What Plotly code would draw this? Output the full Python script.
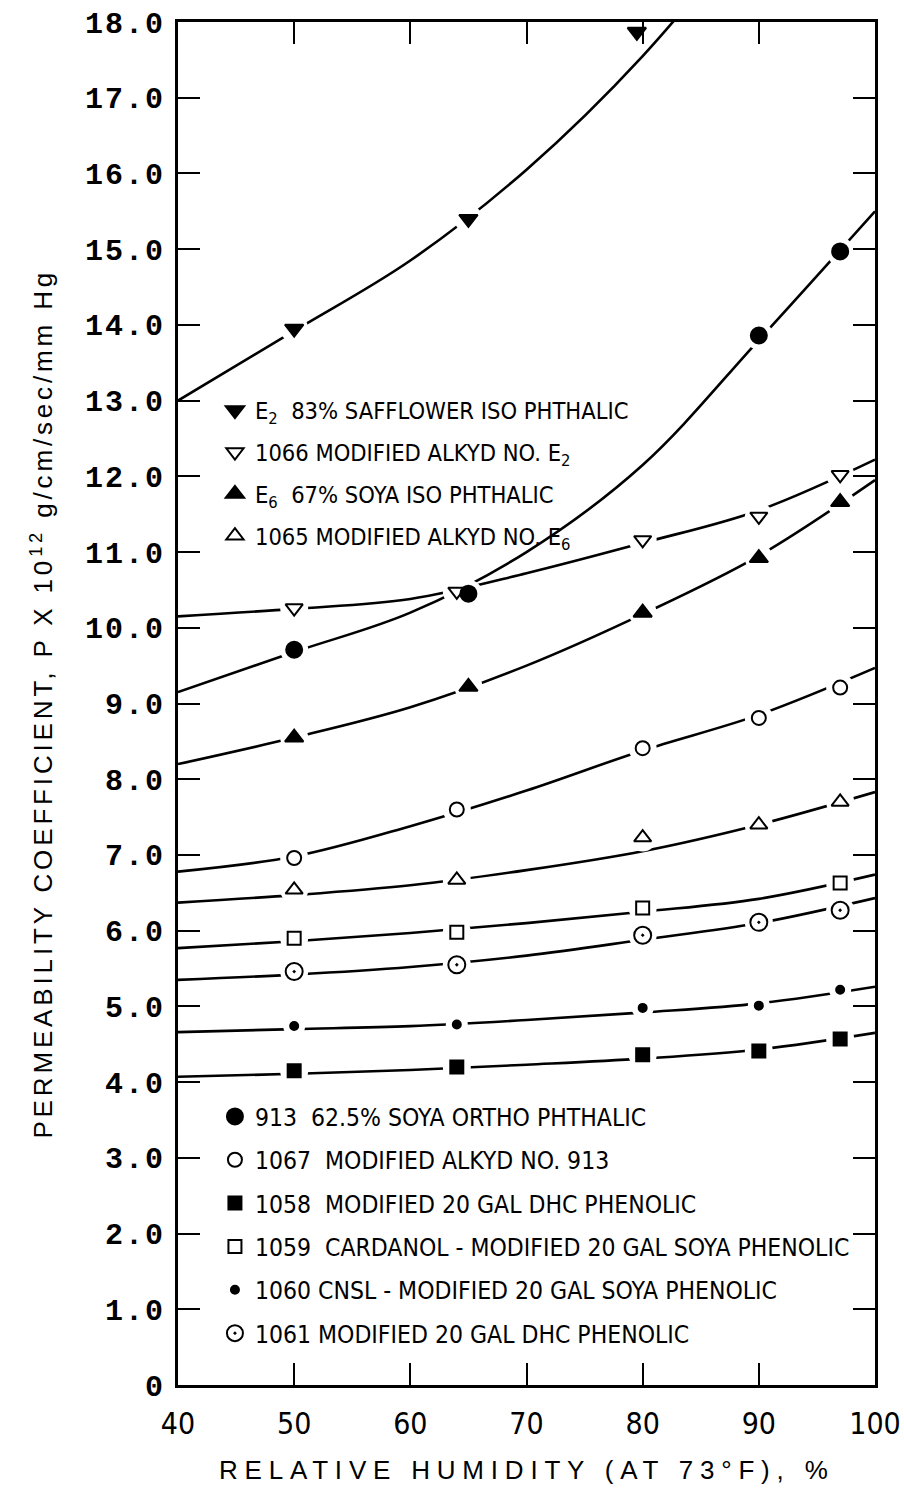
import plotly.graph_objects as go

# Relative humidity (%) at which each film was measured
RH_E2 = [50, 65, 79.5]
RH_1066 = [50, 64, 80, 90, 97]
RH_E6 = [50, 65, 80, 90, 97]
RH_1065 = [50, 64, 80, 90, 97]
RH_913 = [50, 65, 90, 97]
RH_1067 = [50, 64, 80, 90, 97]
RH_1058 = [50, 64, 80, 90, 97]
RH_1059 = [50, 64, 80, 97]
RH_1060 = [50, 64, 80, 90, 97]
RH_1061 = [50, 64, 80, 90, 97]

# Measured permeability coefficients, P x 10^12 g/cm/sec/mm Hg
P_E2 = [13.95, 15.40, 17.87]
P_1066 = [10.26, 10.48, 11.16, 11.47, 12.02]
P_E6 = [8.55, 9.22, 10.20, 10.92, 11.66]
P_1065 = [6.54, 6.67, 7.23, 7.40, 7.70]
P_913 = [9.71, 10.45, 13.86, 14.97]
P_1067 = [6.96, 7.60, 8.41, 8.81, 9.21]
P_1058 = [4.15, 4.20, 4.36, 4.41, 4.57]
P_1059 = [5.90, 5.98, 6.30, 6.63]
P_1060 = [4.74, 4.76, 4.98, 5.01, 5.22]
P_1061 = [5.46, 5.55, 5.94, 6.11, 6.27]

# Faired curves, sampled at common humidity knots
CURVE_RH = [40, 50, 60, 70, 80, 90, 100]
CURVE_E2 = [13.00, 13.92, 14.85, 16.05, 17.55, 19.40, 21.50]
CURVE_1066 = [10.15, 10.25, 10.38, 10.72, 11.12, 11.55, 12.22]
CURVE_E6 = [8.20, 8.55, 8.95, 9.50, 10.18, 10.95, 11.95]
CURVE_1065 = [6.37, 6.47, 6.60, 6.80, 7.05, 7.40, 7.83]
CURVE_913 = [9.15, 9.68, 10.20, 11.00, 12.15, 13.80, 15.50]
CURVE_1067 = [6.78, 6.98, 7.38, 7.85, 8.38, 8.85, 9.47]
CURVE_1058 = [4.07, 4.11, 4.16, 4.23, 4.31, 4.43, 4.65]
CURVE_1059 = [5.77, 5.86, 5.97, 6.10, 6.25, 6.42, 6.74]
CURVE_1060 = [4.66, 4.70, 4.74, 4.82, 4.92, 5.04, 5.26]
CURVE_1061 = [5.35, 5.42, 5.52, 5.67, 5.88, 6.10, 6.43]

X_TICKS = [40, 50, 60, 70, 80, 90, 100]
Y_TICKS = list(range(0, 19))
Y_TICK_TEXT = ["0"] + [f"{v}.0" for v in range(1, 19)]

NARROW = "Liberation Sans Narrow, DejaVu Sans Condensed, Arial Narrow, Liberation Sans, sans-serif"
SANS = "Liberation Sans, Arial, sans-serif"
MONO = "Liberation Mono, Courier New, monospace"


def spaced(text, px):
    """Wrap text in a span with extra letter spacing."""
    return f'<span style="letter-spacing:{px}px">{text}</span>'


series = [
    # name, rh, p, curve, symbol, size, legend
    ("E<sub>2</sub>  83% SAFFLOWER ISO PHTHALIC", RH_E2, P_E2, CURVE_E2, "triangle-down", 16, "legend"),
    ("1066 MODIFIED ALKYD NO. E<sub>2</sub>", RH_1066, P_1066, CURVE_1066, "triangle-down-open", 15, "legend"),
    ("E<sub>6</sub>  67% SOYA ISO PHTHALIC", RH_E6, P_E6, CURVE_E6, "triangle-up", 16, "legend"),
    ("1065 MODIFIED ALKYD NO. E<sub>6</sub>", RH_1065, P_1065, CURVE_1065, "triangle-up-open", 15, "legend"),
    ("913  62.5% SOYA ORTHO PHTHALIC", RH_913, P_913, CURVE_913, "circle", 16, "legend2"),
    ("1067  MODIFIED ALKYD NO. 913", RH_1067, P_1067, CURVE_1067, "circle-open", 14, "legend2"),
    ("1058  MODIFIED 20 GAL DHC PHENOLIC", RH_1058, P_1058, CURVE_1058, "square", 13, "legend2"),
    ("1059  CARDANOL - MODIFIED 20 GAL SOYA PHENOLIC", RH_1059, P_1059, CURVE_1059, "square-open", 13, "legend2"),
    ("1060 CNSL - MODIFIED 20 GAL SOYA PHENOLIC", RH_1060, P_1060, CURVE_1060, "circle", 8, "legend2"),
    ("1061 MODIFIED 20 GAL DHC PHENOLIC", RH_1061, P_1061, CURVE_1061, "circle-open-dot", 17, "legend2"),
]

fig = go.Figure()

# Curves first
for name, rh, p, curve, sym, size, leg in series:
    fig.add_trace(go.Scatter(
        x=CURVE_RH, y=curve, mode="lines",
        line=dict(color="black", width=2.6, shape="spline", smoothing=1.0),
        showlegend=False, hoverinfo="skip",
    ))

# White halos break the curves around each plotted point
for name, rh, p, curve, sym, size, leg in series:
    fig.add_trace(go.Scatter(
        x=rh, y=p, mode="markers",
        marker=dict(symbol="circle", size=28 if size > 10 else 22, color="white", line=dict(width=0)),
        showlegend=False, hoverinfo="skip",
    ))

# Data points
for i, (name, rh, p, curve, sym, size, leg) in enumerate(series):
    fig.add_trace(go.Scatter(
        x=rh, y=p, mode="markers", name=name,
        marker=dict(symbol=sym, size=size, color="black",
                    line=dict(color="black", width=2)),
        legend=leg, legendgroup=f"g{i}",
    ))

legend_common = dict(
    xanchor="left", yanchor="top",
    bgcolor="rgba(0,0,0,0)", borderwidth=0,
    itemwidth=30, traceorder="grouped",
)

axis_common = dict(
    showline=True, linecolor="black", linewidth=3, mirror="ticks",
    ticks="inside", ticklen=22, tickwidth=2, tickcolor="black",
    showgrid=False, zeroline=False,
)

fig.update_layout(
    width=904, height=1501,
    margin=dict(l=178, r=29, t=22, b=116, autoexpand=False),
    paper_bgcolor="white", plot_bgcolor="white",
    xaxis=dict(range=[40, 100], tickvals=X_TICKS, ticktext=[str(v) for v in X_TICKS],
               tickfont=dict(family=NARROW, size=30, color="black"),
               ticklabelstandoff=10, **axis_common),
    yaxis=dict(range=[0, 18], tickvals=Y_TICKS, ticktext=[spaced(t, 2) for t in Y_TICK_TEXT],
               tickfont=dict(family=MONO, size=30, color="black", weight="bold"),
               ticklabelstandoff=4, **axis_common),
    legend=dict(x=0.053, y=0.7312, tracegroupgap=8.3,
                font=dict(family=NARROW, size=23.5, color="black"), **legend_common),
    legend2=dict(x=0.053, y=0.2135, tracegroupgap=8.5,
                 font=dict(family=NARROW, size=24.5, color="black"), **legend_common),
    annotations=[
        dict(text=spaced("RELATIVE HUMIDITY (AT 73°F), %", 6.8), xref="paper", yref="paper",
             x=0.5, y=-0.0624, xanchor="center", yanchor="middle", showarrow=False,
             font=dict(family=SANS, size=26, color="black")),
        dict(text=spaced("PERMEABILITY COEFFICIENT, P X 10<sup>12</sup> g/cm/sec/mm Hg", 3.85),
             xref="paper", yref="paper", x=-0.195, y=0.5, textangle=-90,
             xanchor="center", yanchor="middle", showarrow=False,
             font=dict(family=SANS, size=26, color="black")),
    ],
)

fig.write_html("out.html")
